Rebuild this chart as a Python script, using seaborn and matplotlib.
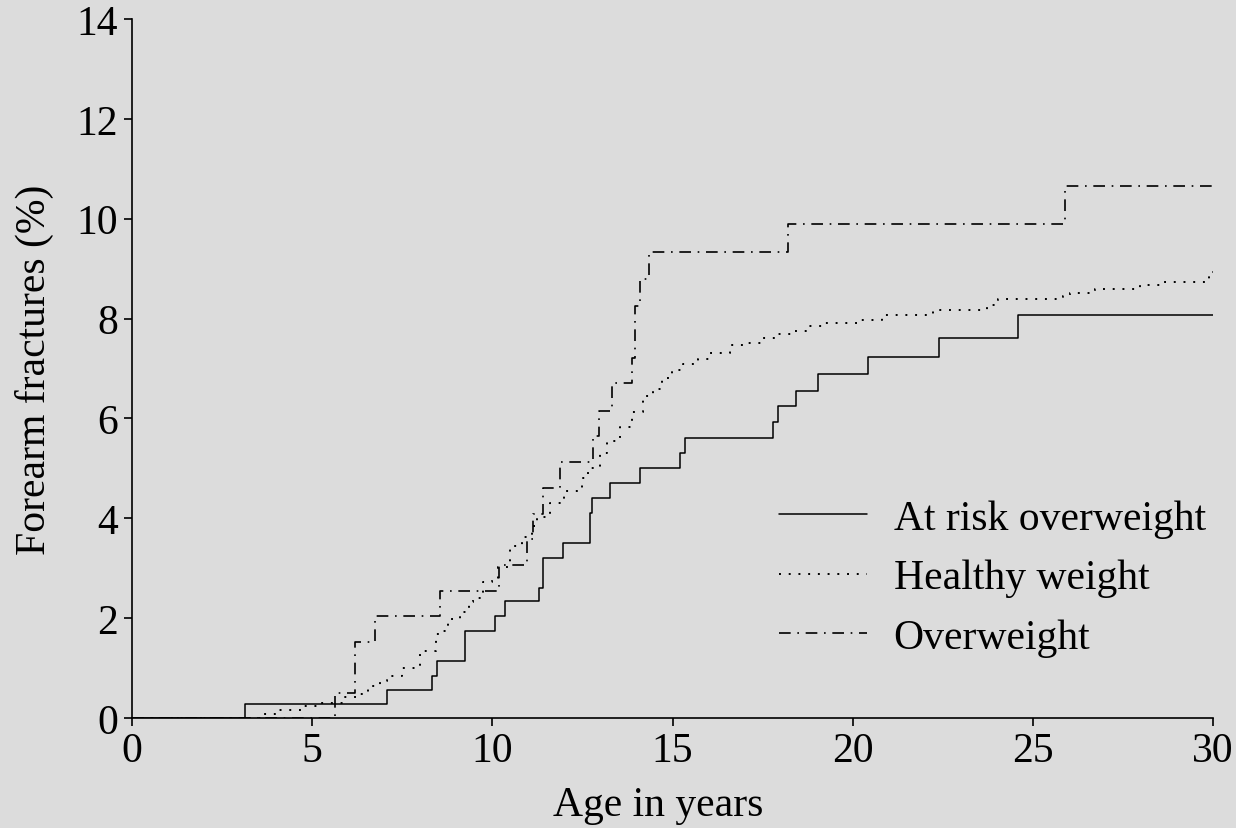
import numpy as np
import pandas as pd
import matplotlib
matplotlib.use('Agg')
import matplotlib.pyplot as plt
import seaborn as sns

# Dados (curvas em degrau, idade x % fraturas)
idade_risco = [0, 3.14, 7.08, 8.33, 8.47, 9.25, 10.06, 10.36, 11.3, 11.4, 11.95, 12.7, 12.77,
               13.27, 14.1, 15.2, 15.35, 17.8, 17.93, 18.43, 19.04, 20.42, 22.4, 24.6, 30]
fratura_risco = [0, 0.28, 0.56, 0.85, 1.15, 1.75, 2.04, 2.34, 2.6, 3.2, 3.5, 4.1, 4.4,
                 4.7, 5.0, 5.3, 5.6, 5.93, 6.25, 6.55, 6.89, 7.24, 7.61, 8.07, 8.07]

idade_saudavel = [0, 3.3, 3.65, 4.09, 4.75, 5.19, 5.86, 6.27, 6.55, 6.88, 7.07, 7.5, 8.0, 8.44, 8.6,
                  8.78, 9.1, 9.34, 9.47, 9.75, 9.98, 10.17, 10.49, 10.82, 11.1, 11.23, 11.6, 12.0,
                  12.48, 12.66, 13.0, 13.17, 13.54, 13.87, 14.19, 14.47, 14.7, 14.98, 15.3, 15.72,
                  16.04, 16.6, 17.06, 17.48, 17.89, 18.35, 18.73, 19.14, 20.11, 20.8, 22.24, 23.72,
                  24.04, 25.85, 26.03, 26.73, 27.98, 28.53, 29.9, 30]
fratura_saudavel = [0, 0, 0.08, 0.16, 0.24, 0.31, 0.42, 0.48, 0.64, 0.75, 0.84, 1.0, 1.35, 1.68, 1.75,
                    1.98, 2.13, 2.32, 2.4, 2.72, 2.76, 3.02, 3.45, 3.62, 3.85, 4.02, 4.3, 4.55,
                    4.8, 5.0, 5.3, 5.55, 5.82, 6.13, 6.44, 6.59, 6.8, 6.96, 7.09, 7.19,
                    7.31, 7.48, 7.52, 7.62, 7.7, 7.75, 7.86, 7.92, 7.98, 8.08, 8.18, 8.28,
                    8.39, 8.45, 8.52, 8.59, 8.68, 8.74, 8.93, 8.93]

idade_sobrepeso = [0, 5.63, 6.18, 6.74, 8.55, 10.19, 10.96, 11.12, 11.4, 11.88, 12.8, 12.95,
                   13.31, 13.87, 13.96, 14.1, 14.36, 18.2, 25.9, 30]
fratura_sobrepeso = [0, 0.5, 1.53, 2.04, 2.54, 3.06, 3.58, 4.09, 4.6, 5.13, 5.65, 6.15,
                     6.71, 7.22, 8.26, 8.8, 9.33, 9.9, 10.66, 10.66]

rotulos = ['At risk overweight', 'Healthy weight', 'Overweight']
ticks_x = [0, 5, 10, 15, 20, 25, 30]
ticks_y = [0, 2, 4, 6, 8, 10, 12, 14]

fundo = '#dcdcdc'
sns.set_style('ticks')
plt.rcParams['font.family'] = ['Liberation Serif', 'DejaVu Serif']
plt.rcParams['font.size'] = 30
plt.rcParams['text.color'] = 'black'
plt.rcParams['axes.labelcolor'] = 'black'

fig = plt.figure(figsize=(12.36, 8.29), dpi=100, facecolor=fundo)
ax = fig.add_axes([0.1068, 0.1327, 0.8746, 0.8432], facecolor=fundo)

sns.lineplot(x=idade_risco, y=fratura_risco, ax=ax, color='black', linewidth=1.1,
             drawstyle='steps-post', label=rotulos[0], estimator=None, sort=False)
sns.lineplot(x=idade_saudavel, y=fratura_saudavel, ax=ax, color='black', linewidth=1.4,
             linestyle=(0, (1, 4)), drawstyle='steps-post', label=rotulos[1],
             estimator=None, sort=False)
sns.lineplot(x=idade_sobrepeso, y=fratura_sobrepeso, ax=ax, color='black', linewidth=1.2,
             linestyle=(0, (7, 4, 1, 4)), drawstyle='steps-post', label=rotulos[2],
             estimator=None, sort=False)

ax.set_xlim(0, 30)
ax.set_ylim(0, 14)
ax.set_xticks(ticks_x)
ax.set_yticks(ticks_y)
ax.tick_params(direction='out', length=6, width=1.2, pad=4, labelsize=30, colors='black')
for lado in ['top', 'right']:
    ax.spines[lado].set_visible(False)
for lado in ['left', 'bottom']:
    ax.spines[lado].set_linewidth(1.2)
    ax.spines[lado].set_color('black')

ax.set_xlabel('Age in years', fontsize=30)
ax.xaxis.set_label_coords(0.487, -0.097, transform=ax.transAxes)
ax.set_ylabel('Forearm fractures (%)', fontsize=30, labelpad=16)

leg = ax.legend(loc='lower right', bbox_to_anchor=(1.028, 0.034), frameon=False, fontsize=30,
                handlelength=2.1, handletextpad=0.65, labelspacing=0.5)
for t in leg.get_texts():
    t.set_color('black')

plt.savefig('out.png', dpi=100, facecolor=fundo)
